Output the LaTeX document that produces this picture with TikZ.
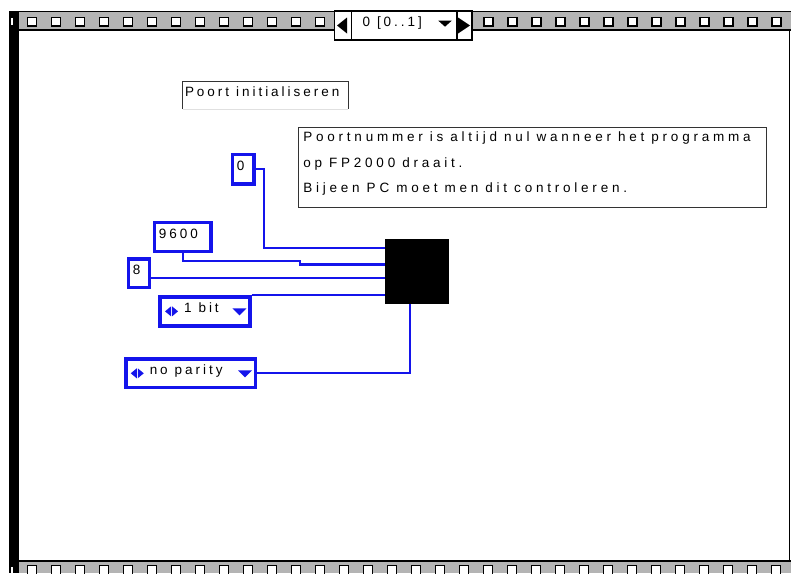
\documentclass[tikz,border=0pt]{standalone}
\usepackage{fontspec}
\newfontfamily\uifont[LetterSpace=22]{Liberation Sans}
\newfontfamily\notefont[LetterSpace=28]{Liberation Sans}
\newcommand{\uitext}{\uifont\fontsize{13.5}{16}\selectfont}
\newcommand{\notetext}{\notefont\fontsize{13.5}{25.5}\selectfont}
\newcommand{\wsp}{\hspace{7pt}}
\definecolor{uiBlue}{RGB}{20,20,235}
\definecolor{uiGrey}{RGB}{180,180,180}
\usetikzlibrary{calc,positioning}

\begin{document}
\begin{tikzpicture}[x=1pt, y=-1pt,
  numbox/.style={draw=uiBlue, line width=3.5pt, fill=white, font=\uitext, align=left,
                 inner xsep=4.5pt, inner ysep=0pt, text height=9pt, text depth=7pt,
                 anchor=north west},
  dropbox/.style={numbox, inner xsep=24pt, path picture={
      \fill[uiBlue] ($(path picture bounding box.west)+(5,0)$) -- ++(6,-5) -- ++(0,10) -- cycle;
      \fill[uiBlue] ($(path picture bounding box.west)+(12,-5)$) -- ++(6,5) -- ++(-6,5) -- cycle;
      \fill[uiBlue] ($(path picture bounding box.east)+(-17.5,-3)$) -- ++(14,0) -- ++(-7,7) -- cycle;}},
  selbox/.style={draw, line width=1.2pt, fill=white, inner sep=0pt, outer sep=0pt,
                 minimum height=29pt},
  frame/.style={draw=black!80, line width=0.9pt},
  wire/.style={draw=uiBlue, line width=2.2pt},
  hole/.style={draw, line width=1.4pt, fill=white}
]
  \useasboundingbox (0,0) rectangle (791,573);
  \clip (0,0) rectangle (791,573);

  % film strips and frame
  \fill[uiGrey] (19,11) rectangle (791,30);
  \draw[line width=0.8pt] (19,11) -- (791,11);
  \draw[line width=1.5pt] (19,30) -- (791,30);
  \foreach \i in {0,...,12} {
    \draw[hole] (27.4+24*\i,17.2) rectangle ++(9,8.6);
    \draw[hole] (484+24*\i,17.2) rectangle ++(9,8.6);
  }
  \fill[uiGrey] (19,561) rectangle (791,573);
  \draw[line width=1.5pt] (19,561) -- (791,561);
  \foreach \i in {0,...,31}
    \draw[hole] (27.4+24*\i,565.7) rectangle ++(9,12);
  \draw[line width=1.5pt] (789.5,30) -- (789.5,561);
  \fill (9,11) rectangle (19,573);
  \fill[white] (11,18) rectangle (13,25);
  \fill[white] (11,567) rectangle (13,573);

  % page selector
  \node[selbox, anchor=north west, minimum width=105.5pt, text width=83.5pt,
        inner xsep=11pt, align=left, font=\uitext, text height=9.5pt, text depth=8.5pt,
        path picture={\fill[black] ($(path picture bounding box.east)+(-18.7,-4.8)$)
                      -- ++(13.4,0) -- ++(-6.7,6) -- cycle;}]
    (counter) at (351.5,11) {0\wsp [0..1]};
  \node[selbox, minimum width=17pt, left=0pt of counter,
        path picture={\fill[black] ($(path picture bounding box.center)+(-6,0)$)
                      -- ++(10,-8) -- ++(0,16) -- cycle;}] (prevbtn) {};
  \node[selbox, minimum width=15pt, right=0pt of counter,
        path picture={\fill[black] ($(path picture bounding box.center)+(5.5,0)$)
                      -- ++(-12,-8) -- ++(0,16) -- cycle;}] (nextbtn) {};

  % title and remark
  \node[anchor=north west, font=\uitext, align=left, inner xsep=2.3pt, inner ysep=0pt,
        outer sep=0pt, minimum width=165.3pt, minimum height=27.3pt, text width=160.7pt,
        text height=9.5pt, text depth=6.8pt] (title) at (182.7,81.7) {Poort\wsp initialiseren};
  \draw[frame] (title.south west) -- (title.north west) -- (title.north east) -- (title.south east);
  \draw[black!12, line width=0.9pt] (title.south west) -- (title.south east);

  \node[frame, anchor=north west, font=\notetext, align=left, inner xsep=5pt, inner ysep=0pt,
        outer sep=0pt, minimum width=468.4pt, minimum height=80pt, text width=458.4pt,
        text height=9.5pt, text depth=60.7pt] (remark) at (298.3,127.3)
    {Poortnummer\wsp is\wsp altijd\wsp nul\wsp wanneer\wsp het\wsp programma\\
     op\wsp FP2000\wsp draait.\\
     Bijeen\wsp PC\wsp moet\wsp men\wsp dit\wsp controleren.};

  % block and its inputs
  \node[fill=black, anchor=north west, inner sep=0pt, outer sep=0pt,
        minimum width=64pt, minimum height=64.7pt] (portblk) at (385,239) {};
  \coordinate (pinA) at ($(portblk.north west)+(0,9.3)$);
  \coordinate (pinB) at ($(portblk.north west)+(0,25.5)$);
  \coordinate (pinC) at ($(portblk.north west)+(0,38.7)$);
  \coordinate (pinE) at ($(portblk.south west)+(25,0)$);
  \coordinate (kink) at (300,260.7);

  \node[numbox, minimum width=21.5pt, minimum height=29.5pt, text width=12.5pt] (zero) at (230.7,152.7) {0};
  \node[numbox, minimum width=56.5pt, minimum height=29.1pt, text width=47.5pt] (ninek) at (152.7,220.7) {9600};
  \node[numbox, minimum width=20.8pt, minimum height=28.5pt, text width=11.8pt] (eight) at (126.7,257.3) {8};
  \node[dropbox, minimum width=89.9pt, minimum height=29.2pt, text width=41.9pt] (onebit) at (158.3,295) {1\wsp bit};
  \node[dropbox, minimum width=129.8pt, minimum height=28.5pt, text width=81.8pt] (noparity) at (124,357.3) {no\wsp parity};

  \draw[wire] (zero.east) -- ++(8.3,0) |- (pinA);
  \draw[wire] (ninek.south) |- (kink) |- (pinB);
  \draw[wire] (eight.east |- pinC) -- (pinC);
  \draw[wire] (onebit.north east) -- (onebit.north east -| portblk.west);
  \draw[wire] (noparity.east) -| (pinE);
\end{tikzpicture}
\end{document}
